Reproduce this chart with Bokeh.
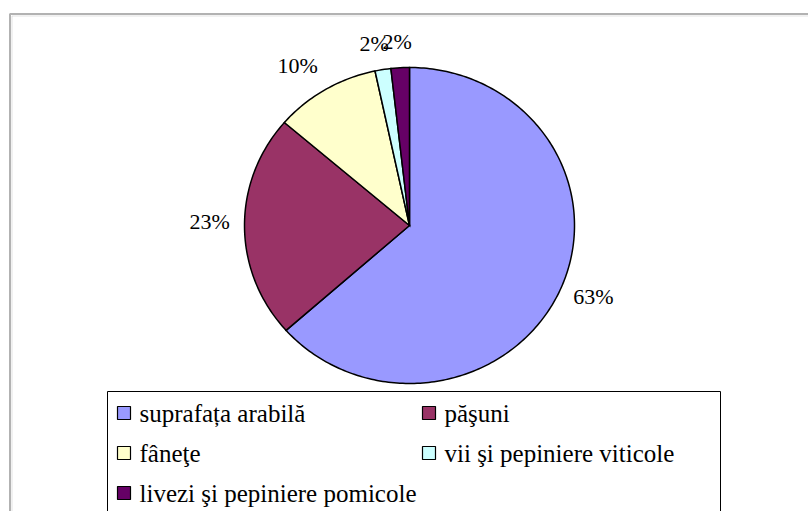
import numpy as np
from bokeh.plotting import figure
from bokeh.models import ColumnDataSource, BoxAnnotation
from bokeh.core.properties import value
from bokeh.embed import file_html
from bokeh.resources import INLINE

# ---- data ----
categories = ["suprafața arabilă", "păşuni", "fâneţe", "vii şi pepiniere viticole", "livezi şi pepiniere pomicole"]
shares = [63.45, 22.85, 10.35, 1.55, 1.8]
colors = ["#9999FF", "#993366", "#FFFFCC", "#CCFFFF", "#660066"]

# ---- layout constants (px) ----
W, H = 808, 511
CX, CY = 409, 225          # pie centre
RX, RY = 165, 158          # pie radii
FONT = "Liberation Serif"
LAB_R = 1.09               # label anchor radius (pie radii)
LAB_HW, LAB_HH = 20, 7     # outward push of a label box
LAB_UP = 5                 # small upward nudge of all labels
LEG_LEFT, LEG_TOP, LEG_RIGHT = 107, 391, 720
LEG_COLS_X = [117, 422]
LEG_ROW0, LEG_PITCH = 412.5, 40
SW = 13

x_range = (-CX / RX, (W - CX) / RX)
y_range = (-(H - CY) / RY, CY / RY)

def dx(px):
    return x_range[0] + px / RX

def dy(py):
    return y_range[1] - py / RY

p = figure(width=W, height=H, x_range=x_range, y_range=y_range,
           output_backend="svg", toolbar_location=None, min_border=0)
p.axis.visible = False
p.grid.visible = False
p.outline_line_color = None
p.background_fill_color = "white"
p.border_fill_color = "white"

# outer chart border (shadow + black line)
p.add_layout(BoxAnnotation(left=dx(11.5), right=dx(2000), top=dy(15.5), bottom=dy(2000),
                           fill_alpha=0, line_color="#a0a0a0", line_width=1))
p.add_layout(BoxAnnotation(left=dx(9.5), right=dx(2000), top=dy(13.5), bottom=dy(2000),
                           fill_alpha=0, line_color="black", line_width=2))

total = float(sum(shares))
fr = np.array(shares) / total
ends = np.cumsum(fr) * 2 * np.pi
starts = ends - fr * 2 * np.pi

for i, (s, e) in enumerate(zip(starts, ends)):
    n = max(3, int((e - s) / (2 * np.pi) * 360))
    t = np.linspace(s, e, n + 1)
    xs = np.concatenate([[0.0], np.sin(t), [0.0]])
    ys = np.concatenate([[0.0], np.cos(t), [0.0]])
    src = ColumnDataSource(dict(xs=[list(xs)], ys=[list(ys)], cat=[categories[i]]))
    p.patches("xs", "ys", source=src, fill_color=colors[i],
              line_color="black", line_width=1.5, line_join="miter")

# percentage labels, pushed outward like Excel's outside-end labels
mid = (starts + ends) / 2
labels = [f"{round(v)}%" for v in fr * 100]
xo = np.clip(np.sin(mid) * 2, -1, 1) * LAB_HW
yo = -np.clip(np.cos(mid) * 2, -1, 1) * LAB_HH - LAB_UP
lsrc = ColumnDataSource(dict(x=list(np.sin(mid) * LAB_R), y=list(np.cos(mid) * LAB_R),
                             xo=list(xo), yo=list(yo), t=labels))
p.text("x", "y", text="t", source=lsrc, x_offset="xo", y_offset="yo",
       text_font=value(FONT), text_font_size="22px",
       text_align="center", text_baseline="middle", text_color="black")

# legend (drawn by hand)
p.quad(left=[dx(LEG_LEFT)], right=[dx(LEG_RIGHT)], top=[dy(LEG_TOP)], bottom=[dy(700)],
       fill_color="white", line_color="black", line_width=1)
sx, sy, tx = [], [], []
for i in range(len(categories)):
    col, row = i % 2, i // 2
    sx.append(dx(LEG_COLS_X[col] + SW / 2))
    sy.append(dy(LEG_ROW0 + row * LEG_PITCH))
    tx.append(dx(LEG_COLS_X[col] + SW + 9))
legsrc = ColumnDataSource(dict(sx=sx, sy=sy, tx=tx, c=colors, t=categories))
p.rect("sx", "sy", width=SW, height=SW, width_units="screen", height_units="screen",
       source=legsrc, fill_color="c", line_color="black", line_width=1.2)
p.text("tx", "sy", text="t", source=legsrc, text_font=value(FONT), text_font_size="25px",
       text_align="left", text_baseline="middle", text_color="black")

open("out.html", "w").write(file_html(p, INLINE))
